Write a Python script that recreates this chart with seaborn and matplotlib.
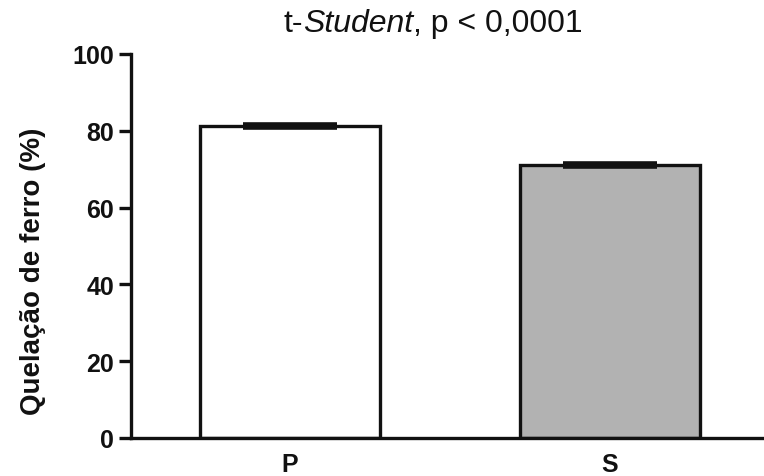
import matplotlib
matplotlib.use("Agg")
import matplotlib.pyplot as plt
import seaborn as sns
import pandas as pd

categories = ["P", "S"]
means = [81.2, 71.1]
sems = [0.5, 0.6]
colors = ["#ffffff", "#b2b2b2"]

sns.set_style("ticks")
plt.rcParams['font.family'] = ['Liberation Sans', 'DejaVu Sans']

fig = plt.figure(figsize=(7.64, 4.77), dpi=100)
ax = fig.add_axes([0.1715, 0.0797, 0.828, 0.805])

df = pd.DataFrame({"grupo": categories, "valor": means})
sns.barplot(data=df, x="grupo", y="valor", hue="grupo", palette=colors,
            errorbar=None, width=0.56, edgecolor="#111111", linewidth=2.4,
            legend=False, ax=ax)
ax.errorbar(range(len(categories)), means, yerr=sems, fmt="none",
            ecolor="#111111", elinewidth=2, capsize=34, capthick=2.6, zorder=3)

ax.set_xlim(-0.497, 1.48)
ax.set_ylim(0, 100)
ax.set_yticks([0, 20, 40, 60, 80, 100])
ax.set_xlabel("")
ax.set_ylabel("Quelação de ferro (%)", fontsize=20, fontweight="bold",
              color="#111111")
ax.yaxis.set_label_coords(-0.135, 0.4375)
ax.tick_params(axis="both", labelsize=18, width=2.4, length=9, color="#111111",
               labelcolor="#111111", pad=3)
for lab in ax.get_xticklabels() + ax.get_yticklabels():
    lab.set_fontweight("bold")
ax.tick_params(axis="x", length=0, pad=10)
sns.despine(ax=ax)
for s in ["left", "bottom"]:
    ax.spines[s].set_linewidth(2.4)
    ax.spines[s].set_color("#111111")

# title with italic part, laid out by measuring text widths
fs = 23
ty = 1 - 24 / 477
parts = [("t-", "normal"), ("Student", "italic"), (", p < 0,0001", "normal")]
texts = [fig.text(0, ty, s, fontsize=fs, style=st, ha="left", va="center",
                  color="#111111") for s, st in parts]
fig.canvas.draw()
r = fig.canvas.get_renderer()
widths = [t.get_window_extent(r).width for t in texts]
total = sum(widths)
x0 = 433 - total / 2
for t, w in zip(texts, widths):
    t.set_x(x0 / 764)
    x0 += w

fig.savefig("out.png", dpi=100)
